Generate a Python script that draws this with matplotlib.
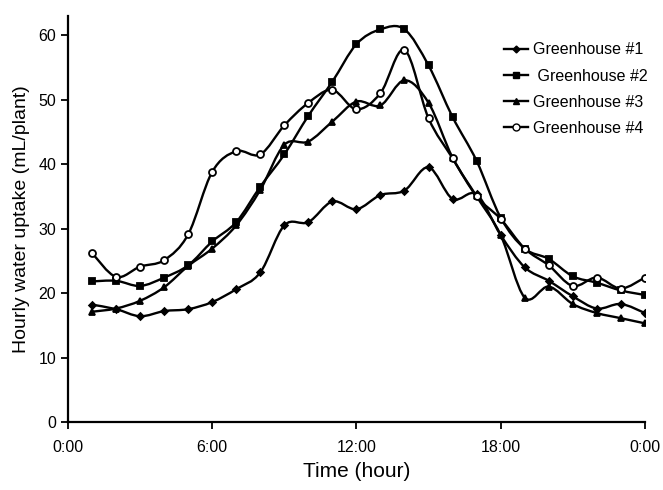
import numpy as np
import matplotlib.pyplot as plt
from matplotlib.path import Path
from matplotlib.patches import PathPatch
from matplotlib.lines import Line2D

# Godziny pomiarów (1:00 ... 24:00)
hours = list(range(1, 25))

gh1 = [18.2, 17.5, 16.4, 17.2, 17.5, 18.6, 20.6, 23.2, 30.5, 31.0, 34.2, 33.0,
       35.2, 35.9, 39.5, 34.6, 35.3, 29.0, 24.0, 21.9, 19.5, 17.6, 18.3, 16.9]
gh2 = [21.8, 21.9, 21.1, 22.4, 24.3, 28.0, 31.0, 36.5, 41.5, 47.5, 52.8, 58.6,
       60.9, 60.9, 55.3, 47.3, 40.5, 31.7, 26.9, 25.3, 22.6, 21.6, 20.4, 19.7]
gh3 = [17.1, 17.6, 18.8, 20.9, 24.2, 26.9, 30.5, 36.0, 43.0, 43.5, 46.6, 49.7,
       49.1, 53.0, 49.5, 41.0, 35.0, 29.0, 19.3, 21.0, 18.3, 16.9, 16.1, 15.3]
gh4 = [26.2, 22.5, 24.1, 25.1, 29.1, 38.8, 42.0, 41.5, 46.0, 49.5, 51.5, 48.5,
       51.0, 57.7, 47.1, 40.9, 35.0, 31.5, 26.9, 24.3, 21.1, 22.4, 20.7, 22.4]

labels = ['Greenhouse #1', ' Greenhouse #2', 'Greenhouse #3', 'Greenhouse #4']
xtick_pos = [0, 6, 12, 18, 24]
xtick_lab = ['0:00', '6:00', '12:00', '18:00', '0:00']


def smooth_path(x, y, t=1/6):
    # wygładzona linia jak w Excelu (krzywe Beziera przez punkty)
    x = np.asarray(x, float)
    y = np.asarray(y, float)
    verts = [(x[0], y[0])]
    codes = [Path.MOVETO]
    n = len(x)
    for i in range(n - 1):
        i0 = max(i - 1, 0)
        i3 = min(i + 2, n - 1)
        c1 = (x[i] + (x[i + 1] - x[i0]) * t, y[i] + (y[i + 1] - y[i0]) * t)
        c2 = (x[i + 1] - (x[i3] - x[i]) * t, y[i + 1] - (y[i3] - y[i]) * t)
        verts += [c1, c2, (x[i + 1], y[i + 1])]
        codes += [Path.CURVE4] * 3
    return Path(verts, codes)


plt.rcParams['font.family'] = ['Liberation Sans', 'DejaVu Sans']

fig = plt.figure(figsize=(6.63, 4.9), dpi=100)
ax = fig.add_axes([0.1026, 0.1388, 0.870, 0.829])

series = [gh1, gh2, gh3, gh4]
markers = [('D', 3.5, 'black'), ('s', 5, 'black'), ('^', 5, 'black'), ('o', 5, 'white')]
handles = []
for data, (m, ms, fc), lab in zip(series, markers, labels):
    ax.add_patch(PathPatch(smooth_path(hours, data), fill=False, color='black', lw=1.7))
    ax.plot(hours, data, linestyle='none', marker=m, markersize=ms,
            markerfacecolor=fc, markeredgecolor='black', markeredgewidth=1.3)
    handles.append(Line2D([], [], color='black', lw=1.7, marker=m, markersize=ms,
                          markerfacecolor=fc, markeredgecolor='black'))

ax.set_xlim(0, 24)
ax.set_ylim(0, 63)
ax.set_xticks(xtick_pos)
ax.set_xticklabels(xtick_lab)
ax.set_yticks(range(0, 61, 10))
ax.spines['top'].set_visible(False)
ax.spines['right'].set_visible(False)
ax.spines['left'].set_linewidth(1.6)
ax.spines['bottom'].set_linewidth(1.6)
ax.tick_params(direction='out', length=5, width=1.3, labelsize=11.5)
ax.tick_params(axis='x', pad=8)
ax.set_xlabel('Time (hour)', fontsize=15, labelpad=5)
ax.set_ylabel('Hourly water uptake (mL/plant)', fontsize=14, labelpad=6)

ax.legend(handles, labels, loc='upper right', bbox_to_anchor=(1.03, 0.97), frameon=False,
          fontsize=11.5, handlelength=1.5, handletextpad=0.3, labelspacing=0.7)

plt.savefig('out.png', dpi=100)
